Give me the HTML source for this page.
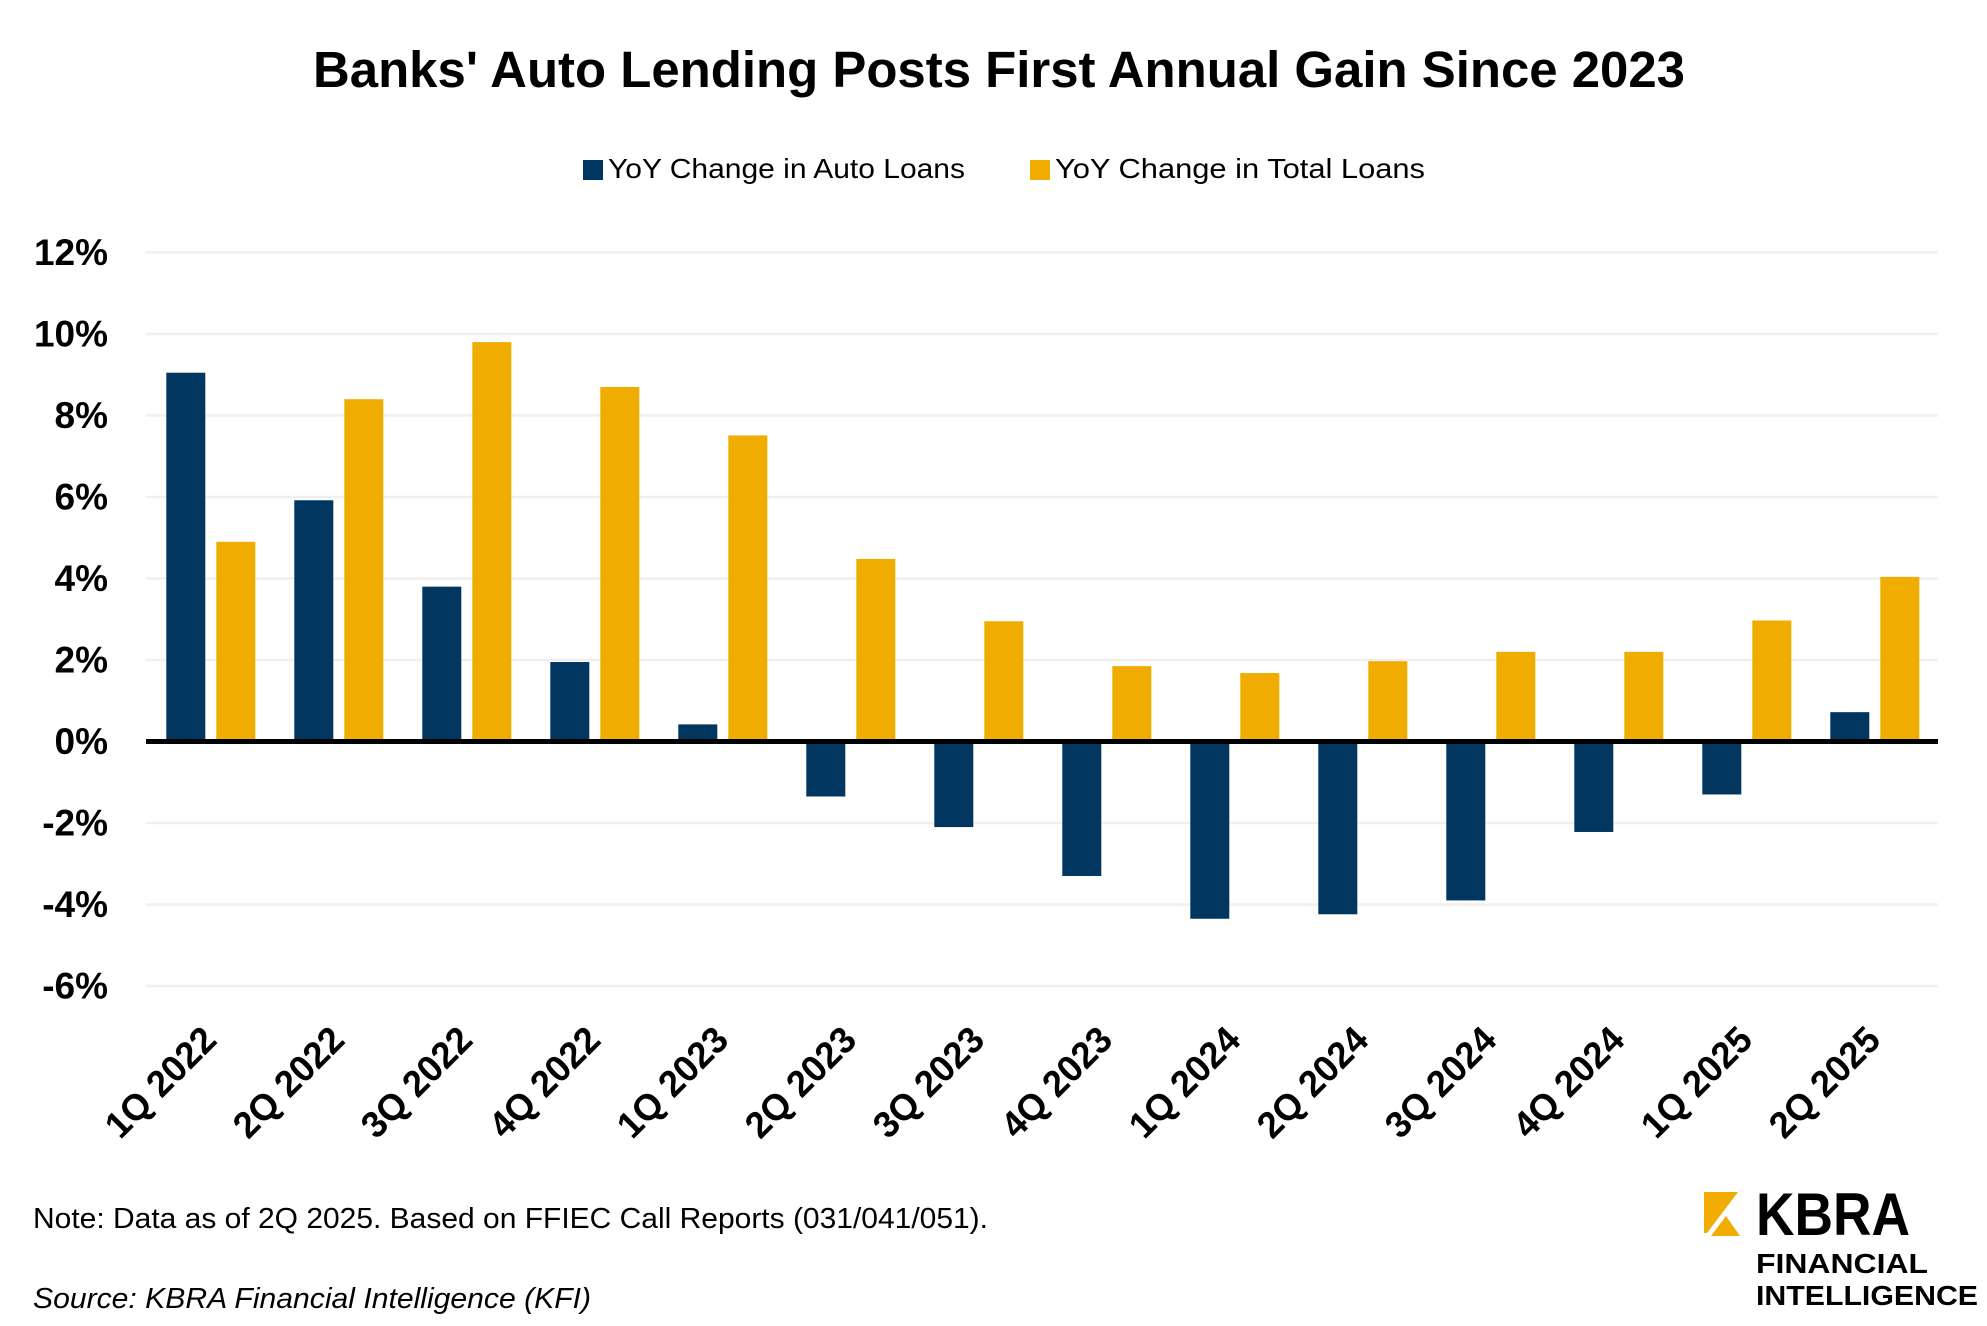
<!DOCTYPE html>
<html><head><meta charset="utf-8"><style>html,body{margin:0;padding:0;background:#fff}svg{display:block}</style></head>
<body>
<svg width="1987" height="1326" viewBox="0 0 1987 1326" xmlns="http://www.w3.org/2000/svg" font-family="Liberation Sans, sans-serif">
<rect width="1987" height="1326" fill="#fff"/>
<text x="999" y="87" text-anchor="middle" font-size="51" font-weight="bold" textLength="1372" lengthAdjust="spacingAndGlyphs">Banks' Auto Lending Posts First Annual Gain Since 2023</text>
<rect x="583" y="160" width="20" height="20" fill="#003660"/>
<text x="608" y="178" font-size="28" textLength="357" lengthAdjust="spacingAndGlyphs">YoY Change in Auto Loans</text>
<rect x="1030" y="160" width="20" height="20" fill="#F0AC00"/>
<text x="1055" y="178" font-size="28" textLength="370" lengthAdjust="spacingAndGlyphs">YoY Change in Total Loans</text>
<g stroke="#efefef" stroke-width="2.5">
<line x1="146" x2="1938" y1="252.5" y2="252.5"/><line x1="146" x2="1938" y1="334" y2="334"/><line x1="146" x2="1938" y1="415.5" y2="415.5"/><line x1="146" x2="1938" y1="497" y2="497"/><line x1="146" x2="1938" y1="578.5" y2="578.5"/><line x1="146" x2="1938" y1="660" y2="660"/><line x1="146" x2="1938" y1="823" y2="823"/><line x1="146" x2="1938" y1="904.5" y2="904.5"/><line x1="146" x2="1938" y1="986" y2="986"/>
</g>
<g font-size="37" font-weight="bold" text-anchor="end">
<text x="108" y="265">12%</text><text x="108" y="346.5">10%</text><text x="108" y="428">8%</text><text x="108" y="509.5">6%</text><text x="108" y="591">4%</text><text x="108" y="672.5">2%</text><text x="108" y="754">0%</text><text x="108" y="835.5">-2%</text><text x="108" y="917">-4%</text><text x="108" y="998.5">-6%</text>
</g>
<g id="bars"></g>
<line x1="146" x2="1938" y1="741.5" y2="741.5" stroke="#000" stroke-width="5"/>
<g id="xl" font-size="37" font-weight="bold" text-anchor="end"></g>
<text x="33" y="1228" font-size="28.5" textLength="955" lengthAdjust="spacingAndGlyphs">Note: Data as of 2Q 2025. Based on FFIEC Call Reports (031/041/051).</text>
<text x="33" y="1308" font-size="28.5" font-style="italic" textLength="558" lengthAdjust="spacingAndGlyphs">Source: KBRA Financial Intelligence (KFI)</text>
<polygon points="1704,1192 1738,1192 1707,1233 1704,1233" fill="#F0AC00"/>
<polygon points="1711,1236 1726,1216 1740,1236" fill="#F0AC00"/>
<text x="1756" y="1235" font-size="60" font-weight="bold" textLength="154" lengthAdjust="spacingAndGlyphs">KBRA</text>
<text x="1756" y="1273" font-size="28" font-weight="bold" textLength="172" lengthAdjust="spacingAndGlyphs">FINANCIAL</text>
<text x="1756" y="1305" font-size="28" font-weight="bold" textLength="222" lengthAdjust="spacingAndGlyphs">INTELLIGENCE</text>
<script>
var a=[9.05,5.92,3.8,1.95,0.42,-1.35,-2.1,-3.3,-4.35,-4.24,-3.9,-2.22,-1.3,0.72];
var t=[4.9,8.4,9.8,8.7,7.51,4.48,2.95,1.85,1.68,1.97,2.2,2.2,2.97,4.04];
var L=["1Q 2022","2Q 2022","3Q 2022","4Q 2022","1Q 2023","2Q 2023","3Q 2023","4Q 2023","1Q 2024","2Q 2024","3Q 2024","4Q 2024","1Q 2025","2Q 2025"];
var ns="http://www.w3.org/2000/svg",b=document.getElementById("bars"),xl=document.getElementById("xl");
function y(v){return 741.5-40.75*v;}
function r(x,v,c){var e=document.createElementNS(ns,"rect");var y0=Math.min(y(v),741.5),h=Math.abs(y(v)-741.5);e.setAttribute("x",x);e.setAttribute("y",y0);e.setAttribute("width",39);e.setAttribute("height",h);e.setAttribute("fill",c);b.appendChild(e);}
for(var i=0;i<14;i++){var x0=166.3+i*128;r(x0,a[i],"#003660");r(x0+50,t[i],"#F0AC00");
var cx=210.5+i*128;var tx=document.createElementNS(ns,"text");tx.setAttribute("transform","translate("+(cx+8)+",1042) rotate(-45)");tx.setAttribute("textLength","139");tx.setAttribute("lengthAdjust","spacingAndGlyphs");tx.textContent=L[i];xl.appendChild(tx);}
</script>
</svg>
</body></html>
